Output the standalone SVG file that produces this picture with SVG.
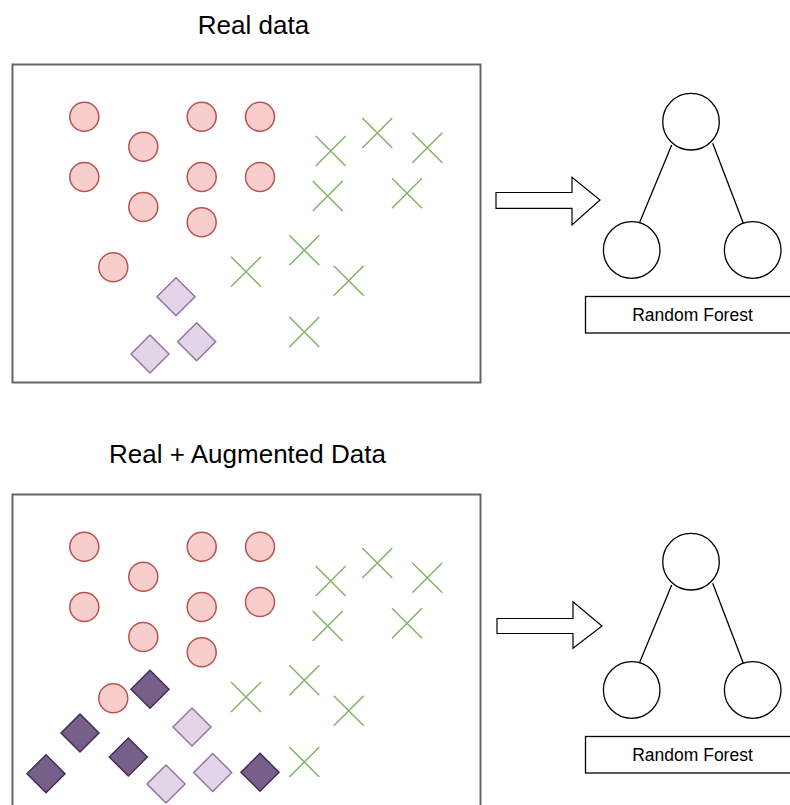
<svg xmlns="http://www.w3.org/2000/svg" width="790" height="805" viewBox="0 0 790 805">
<defs>
<style>
.frame{fill:#ffffff;stroke:#666666;stroke-width:2}
.red{fill:#f8cecc;stroke:#b85450;stroke-width:1.5}
.cross{fill:none;stroke:#82b366;stroke-width:1.5}
.lp{fill:#e1d5e7;stroke:#9673a6;stroke-width:1.5}
.dp{fill:#76608a;stroke:#432d57;stroke-width:1.5}
.node{fill:#ffffff;stroke:#000000;stroke-width:1.3}
.edge{fill:none;stroke:#000000;stroke-width:1.3}
.arrow{fill:#ffffff;stroke:#000000;stroke-width:1.2}
.title{font-family:"Liberation Sans",Arial,Helvetica,sans-serif;font-size:26px;fill:#000000;text-anchor:middle}
.lbl{font-family:"Liberation Sans",Arial,Helvetica,sans-serif;font-size:17.5px;fill:#000000;text-anchor:middle}
</style>
<circle id="c" r="14.5" class="red"/>
<path id="x" d="M-15,-15 L15,15 M-15,15 L15,-15" class="cross"/>
<path id="dl" d="M0,-19 L19,0 L0,19 L-19,0 Z" class="lp"/>
<path id="dd" d="M0,-19 L19,0 L0,19 L-19,0 Z" class="dp"/>
</defs>
<rect width="790" height="805" fill="#ffffff"/>

<!-- Top panel -->
<g id="title-real">
<text class="title" x="253.5" y="34">Real data</text>
</g>
<g id="panel-real">
<rect class="frame" x="12.5" y="64.5" width="468" height="318"/>
<use href="#c" x="84.3" y="116.7"/>
<use href="#c" x="201.7" y="116.7"/>
<use href="#c" x="260" y="116.7"/>
<use href="#c" x="143.3" y="146.7"/>
<use href="#c" x="84.3" y="177"/>
<use href="#c" x="201.7" y="177"/>
<use href="#c" x="260" y="177"/>
<use href="#c" x="143.3" y="207"/>
<use href="#c" x="201.7" y="222.3"/>
<use href="#c" x="113.3" y="267.3"/>
<use href="#x" x="330.7" y="151"/>
<use href="#x" x="377.3" y="133"/>
<use href="#x" x="427.3" y="147.7"/>
<use href="#x" x="327.7" y="196"/>
<use href="#x" x="407" y="193.3"/>
<use href="#x" x="304.3" y="250.3"/>
<use href="#x" x="246" y="271.7"/>
<use href="#x" x="348.7" y="280.7"/>
<use href="#x" x="304.3" y="332"/>
<use href="#dl" x="176" y="296.7"/>
<use href="#dl" x="196.7" y="341.7"/>
<use href="#dl" x="150" y="354"/>
</g>
<g id="arrow-top">
<path class="arrow" d="M496,192.5 L572,192.5 L572,177.3 L600,200 L572,225 L572,208.3 L496,208.3 Z"/>
</g>

<!-- Bottom panel -->
<g id="title-aug">
<text class="title" x="247.5" y="463">Real + Augmented Data</text>
</g>
<g id="panel-aug">
<rect class="frame" x="12.5" y="494.5" width="468" height="330"/>
<use href="#c" x="84.3" y="546.7"/>
<use href="#c" x="201.7" y="546.7"/>
<use href="#c" x="260" y="546.7"/>
<use href="#c" x="143.3" y="576.7"/>
<use href="#c" x="84.3" y="607"/>
<use href="#c" x="201.7" y="607"/>
<use href="#c" x="260" y="602"/>
<use href="#c" x="143.3" y="637"/>
<use href="#c" x="201.7" y="652.3"/>
<use href="#c" x="113.3" y="698.3"/>
<use href="#x" x="330.7" y="581"/>
<use href="#x" x="377.3" y="563"/>
<use href="#x" x="427.3" y="577.7"/>
<use href="#x" x="327.7" y="626"/>
<use href="#x" x="407" y="623.3"/>
<use href="#x" x="304.3" y="680.3"/>
<use href="#x" x="246" y="697"/>
<use href="#x" x="348.7" y="710.7"/>
<use href="#x" x="304.3" y="762"/>
<use href="#dl" x="192" y="727"/>
<use href="#dl" x="212.7" y="772.5"/>
<use href="#dl" x="166" y="784"/>
<use href="#dd" x="150" y="689.2"/>
<use href="#dd" x="80" y="733"/>
<use href="#dd" x="128.3" y="757"/>
<use href="#dd" x="46" y="773.7"/>
<use href="#dd" x="260" y="772.3"/>
</g>
<g id="arrow-bottom">
<path class="arrow" d="M497,618.5 L573,618.5 L573,601.7 L602,626 L573,648.3 L573,633.5 L497,633.5 Z"/>
</g>

<!-- Connectors -->
<g id="connectors">
<line class="edge" x1="671.7" y1="145" x2="639.3" y2="223.3"/>
<line class="edge" x1="712.7" y1="143.3" x2="743.3" y2="223.3"/>
<line class="edge" x1="671.7" y1="585" x2="639.3" y2="663.3"/>
<line class="edge" x1="712.7" y1="583.3" x2="743.3" y2="663.3"/>
</g>

<!-- Top tree -->
<g id="tree-top-root"><circle class="node" cx="691" cy="121.7" r="28.3"/></g>
<g id="tree-top-left"><circle class="node" cx="631.7" cy="250" r="28.3"/></g>
<g id="tree-top-right"><circle class="node" cx="752.7" cy="250" r="28.3"/></g>
<g id="rf-top">
<rect class="node" x="585.5" y="296.5" width="215" height="36.5"/>
<text class="lbl" x="692.5" y="320.5">Random Forest</text>
</g>

<!-- Bottom tree -->
<g id="tree-bottom-root"><circle class="node" cx="691" cy="561.7" r="28.3"/></g>
<g id="tree-bottom-left"><circle class="node" cx="631.7" cy="690" r="28.3"/></g>
<g id="tree-bottom-right"><circle class="node" cx="752.7" cy="690" r="28.3"/></g>
<g id="rf-bottom">
<rect class="node" x="585.5" y="736.5" width="215" height="36.5"/>
<text class="lbl" x="692.5" y="760.5">Random Forest</text>
</g>
</svg>
